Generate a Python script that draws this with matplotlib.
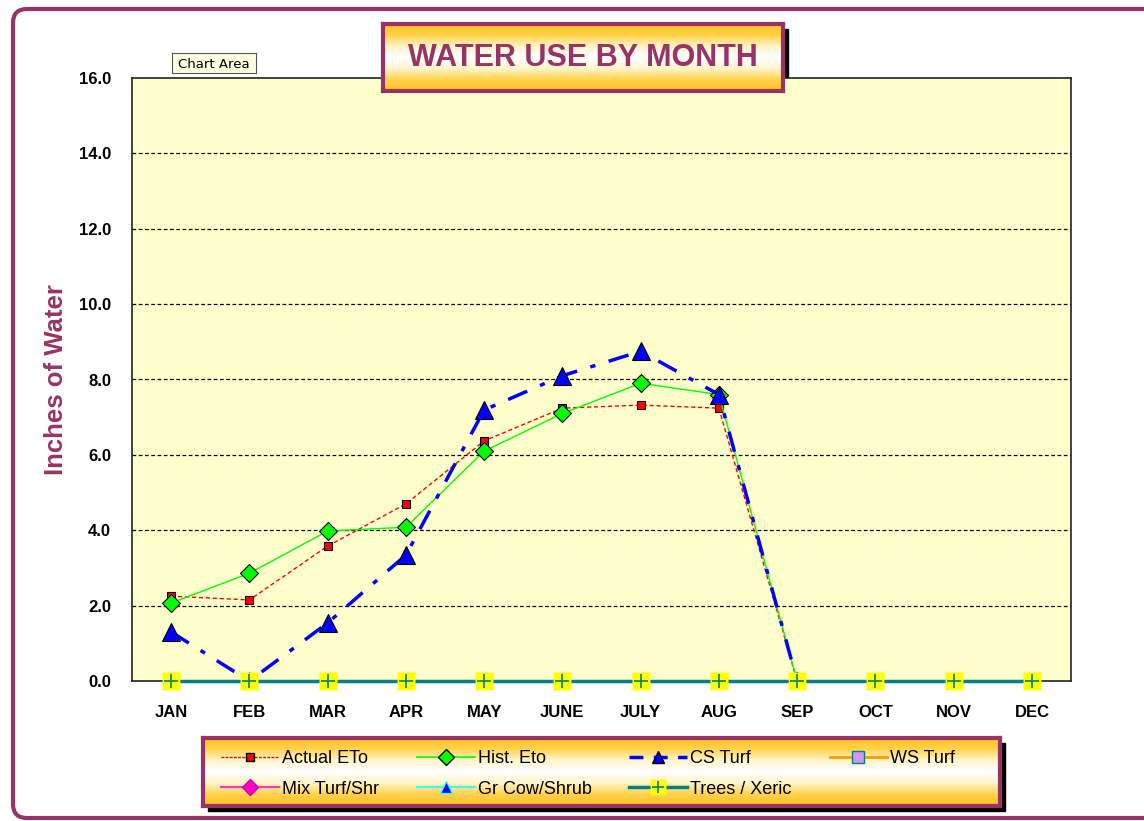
import numpy as np
import matplotlib
matplotlib.use("Agg")
import matplotlib.pyplot as plt
from matplotlib.patches import FancyBboxPatch, Rectangle
from matplotlib.lines import Line2D

plt.rcParams["font.family"] = ["Liberation Sans", "DejaVu Sans"]

MONTHS = ["JAN", "FEB", "MAR", "APR", "MAY", "JUNE", "JULY", "AUG", "SEP", "OCT", "NOV", "DEC"]
NAN = np.nan
ACTUAL_ETO = [2.25, 2.15, 3.58, 4.7, 6.37, 7.24, 7.32, 7.24, 0.0, NAN, NAN, NAN]
HIST_ETO = [2.07, 2.86, 3.98, 4.08, 6.1, 7.1, 7.9, 7.6, 0.0, NAN, NAN, NAN]
CS_TURF = [1.3, 0.0, 1.54, 3.34, 7.19, 8.1, 8.75, 7.6, 0.0, NAN, NAN, NAN]
WS_TURF = [NAN] * 12
MIX_TURF = [NAN] * 12
GR_COW = [NAN] * 12
TREES = [0.0] * 12

MAROON = "#993366"
W, H = 1144, 821

fig = plt.figure(figsize=(W / 100, H / 100), dpi=100)
fig.patch.set_facecolor("white")


def fbox(x, y, w, h):
    # pixel box (top-left origin) -> figure fraction
    return [x / W, (H - y - h) / H, w / W, h / H]


# background layer in pixel coordinates for the outer border
bg = fig.add_axes([0, 0, 1, 1], zorder=0)
bg.set_xlim(0, W)
bg.set_ylim(H, 0)
bg.axis("off")
bg.add_patch(FancyBboxPatch((13, 9), 1160, 809, boxstyle="round,pad=0,rounding_size=14",
                            fill=False, edgecolor=MAROON, linewidth=3))

# gradient for title and legend boxes
grad = np.abs(np.linspace(-1, 1, 100))[:, None]
cmap = matplotlib.colors.LinearSegmentedColormap.from_list(
    "g", ["#FFFFFF", "#FFF4C8", "#FFD24A", "#FFC020"])


def gradient_box(x, y, w, h):
    bg.add_patch(Rectangle((x + 5, y + 5), w, h, color="black"))
    bx = fig.add_axes(fbox(x, y, w, h), zorder=3)
    bx.imshow(grad, aspect="auto", cmap=cmap, extent=[0, 1, 0, 1])
    bx.set_xticks([])
    bx.set_yticks([])
    for s in bx.spines.values():
        s.set_color(MAROON)
        s.set_linewidth(3)
    return bx


# main plot
ax = fig.add_axes(fbox(132, 78, 939, 603), zorder=1)
ax.set_facecolor("#FFFFCC")
x = np.arange(len(MONTHS))

ax.plot(x, ACTUAL_ETO, color="red", lw=1, ls=(0, (3, 2)), marker="s", ms=6,
        mfc="red", mec="black", mew=0.8, zorder=4)
ax.plot(x, HIST_ETO, color="#00FF00", lw=1, marker="D", ms=9,
        mfc="#00FF00", mec="black", mew=0.8, zorder=4)
ax.plot(x, CS_TURF, color="blue", lw=2.5, ls=(0, (6, 4, 1.5, 4)), marker="^", ms=13,
        mfc="blue", mec="black", mew=0.8, zorder=5)
ax.plot(x, WS_TURF, color="#FF9900", lw=2, marker="s", ms=9, mfc="#CC99FF", mec="#008080")
ax.plot(x, MIX_TURF, color="#FF33CC", lw=1.5, marker="D", ms=8, mfc="#FF00CC", mec="#CC0099")
ax.plot(x, GR_COW, color="#33FFFF", lw=1.5, marker="^", ms=8, mfc="blue", mec="#33FFFF")
ax.plot(x, TREES, color="#008080", lw=2.5, zorder=3, clip_on=False)
ax.plot(x, TREES, ls="none", marker="s", ms=13, mfc="yellow", mec="none", zorder=6, clip_on=False)
ax.plot(x, TREES, ls="none", marker="+", ms=10, mew=1.2, color="#008080", zorder=7, clip_on=False)

ax.set_xlim(-0.5, 11.5)
ax.set_ylim(0, 16)
ax.set_xticks(x)
ax.set_xticklabels(MONTHS, fontsize=12, fontweight="bold")
ax.set_yticks(np.arange(0, 16.1, 2))
ax.set_yticklabels([f"{v:.1f}" for v in np.arange(0, 16.1, 2)], fontsize=12, fontweight="bold")
ax.tick_params(length=0)
ax.tick_params(axis="x", pad=17)
ax.tick_params(axis="y", pad=15)
for v in range(2, 16, 2):
    ax.axhline(v, color="black", lw=0.9, ls=(0, (3, 2)), zorder=1)
for s in ax.spines.values():
    s.set_color("#222222")
    s.set_linewidth(1.2)
ax.set_ylabel("Inches of Water", fontsize=18.5, fontweight="bold", color=MAROON, labelpad=8)

# title box
tb = gradient_box(383, 24, 400, 67)
tb.text(0.5, 0.5, "WATER USE BY MONTH", ha="center", va="center", fontsize=22,
        fontweight="bold", color=MAROON, transform=tb.transAxes)

# legend box
lb = gradient_box(203, 738, 797, 68)
h_act = Line2D([], [], color="red", lw=1, ls=(0, (2, 1)), marker="s", ms=6, mfc="red", mec="black")
h_hist = Line2D([], [], color="#00FF00", lw=1.2, marker="D", ms=8, mfc="#00FF00", mec="black")
h_cs = Line2D([], [], color="blue", lw=2.5, ls=(0, (4, 3)), marker="^", ms=9, mfc="blue", mec="black")
h_ws = Line2D([], [], color="#FF9900", lw=2, marker="s", ms=8, mfc="#CC99FF", mec="#008080")
h_mix = Line2D([], [], color="#FF33CC", lw=1.5, marker="D", ms=8, mfc="#FF00CC", mec="#CC0099")
h_gr = Line2D([], [], color="#33FFFF", lw=1.5, marker="^", ms=8, mfc="blue", mec="#33FFFF")
h_tr1 = Line2D([], [], color="#008080", lw=2.5, marker="s", ms=11, mfc="yellow", mec="none")
h_tr2 = Line2D([], [], ls="none", marker="+", ms=9, mew=1.2, color="#008080")
handles = [h_act, h_mix, h_hist, h_gr, h_cs, (h_tr1, h_tr2), h_ws]
labels = ["Actual ETo", "Mix Turf/Shr", "Hist. Eto", "Gr Cow/Shrub", "CS Turf", "Trees / Xeric", "WS Turf"]
lb.legend(handles, labels, ncol=4, loc="center left", bbox_to_anchor=(18 / 797, 0.47), frameon=False,
          fontsize=13, handlelength=3.2, handletextpad=0.17, columnspacing=2.1, labelspacing=0.75,
          borderpad=0, borderaxespad=0)

# "Chart Area" tooltip
ta = fig.add_axes(fbox(172, 53, 84, 20), zorder=4)
ta.set_facecolor("#FFFFE1")
ta.set_xticks([])
ta.set_yticks([])
for s in ta.spines.values():
    s.set_color("#555555")
    s.set_linewidth(0.8)
ta.text(0.5, 0.45, "Chart Area", ha="center", va="center", fontsize=9.5,
        family="DejaVu Sans", transform=ta.transAxes)

fig.savefig("out.png", dpi=100)
